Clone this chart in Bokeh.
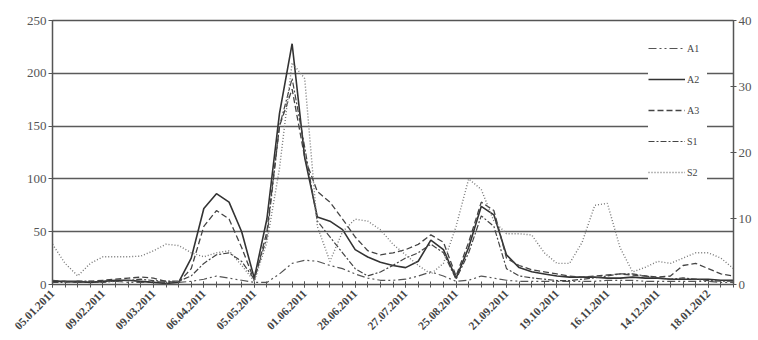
from math import pi
from bokeh.plotting import figure
from bokeh.models import Range1d, LinearAxis, FixedTicker, Legend, LegendItem, ColumnDataSource
from bokeh.embed import file_html
from bokeh.resources import INLINE

# ---- data ----
date_labels = ["05.01.2011", "09.02.2011", "09.03.2011", "06.04.2011", "05.05.2011",
               "01.06.2011", "28.06.2011", "27.07.2011", "25.08.2011", "21.09.2011",
               "19.10.2011", "16.11.2011", "14.12.2011", "18.01.2012"]
n_points = 55
week_index = list(range(n_points))

# left axis series
A1 = [3, 3, 2, 2, 3, 3, 2, 2, 3, 2, 2,
      3, 5, 8, 6, 4, 2, 2, 10, 20, 23,
      22, 18, 15, 10, 6, 4, 4, 5, 8, 12,
      8, 3, 4, 8, 6, 4, 3, 3, 3, 3,
      3, 3, 3, 4, 4, 4, 3, 3, 3, 3, 3, 3, 2, 2]
A2 = [3, 3, 3, 2, 3, 4, 4, 3, 2, 1, 2,
      25, 72, 86, 78, 50, 6, 62, 162, 228, 120,
      64, 60, 52, 33, 26, 21, 18, 16, 22, 42,
      33, 6, 35, 74, 66, 28, 16, 12, 10, 8,
      7, 7, 7, 6, 6, 7, 6, 6, 5, 5, 5, 5, 4, 4]
A3 = [4, 3, 2, 3, 4, 5, 6, 7, 6, 3, 2,
      15, 55, 70, 62, 35, 4, 50, 150, 185, 120,
      88, 78, 62, 45, 32, 28, 30, 33, 38, 47,
      40, 8, 40, 78, 70, 25, 18, 14, 12, 10,
      8, 7, 8, 9, 10, 9, 8, 7, 8, 18, 20, 15, 10, 8]
# right axis series
S1 = [0.3, 0.3, 0.5, 0.5, 0.3, 0.5, 0.6, 0.8, 0.6, 0.5, 0.5,
      1.3, 3.2, 4.5, 4.8, 3.5, 0.8, 7.2, 24.0, 31.2, 20.8,
      9.6, 7.2, 4.8, 2.4, 1.3, 1.9, 2.9, 4.0, 4.8, 6.1,
      4.8, 0.8, 4.8, 10.4, 8.8, 2.4, 1.3, 1.0, 0.8, 0.6,
      0.6, 0.8, 1.0, 1.3, 1.6, 1.6, 1.3, 1.0, 0.8, 1.0, 0.8, 0.6, 0.5, 0.5]
S2 = [6.1, 3.2, 1.3, 3.2, 4.2, 4.2, 4.2, 4.3, 5.1, 6.1, 5.9,
      4.8, 4.2, 4.8, 5.1, 2.9, 0.5, 6.4, 17.6, 33.6, 31.2,
      8.8, 3.5, 8.0, 9.9, 9.6, 8.3, 6.1, 4.5, 2.9, 1.6,
      3.2, 8.8, 16.0, 14.4, 9.6, 7.7, 7.7, 7.5, 4.8, 3.2,
      3.2, 6.4, 12.0, 12.3, 5.6, 1.9, 2.6, 3.5, 3.2, 4.0, 4.8, 4.8, 4.0, 2.4]

left_ticks = [0, 50, 100, 150, 200, 250]
right_ticks = [0, 10, 20, 30, 40]

src = ColumnDataSource(dict(x=week_index, A1=A1, A2=A2, A3=A3, S1=S1, S2=S2))

FONT = "Liberation Serif"
AXC = "#555555"

p = figure(width=758, height=340, output_backend="svg", toolbar_location=None,
           x_range=Range1d(0, n_points - 1), y_range=Range1d(0, 250),
           min_border_left=52, min_border_right=25, min_border_top=20, min_border_bottom=56)
p.extra_y_ranges = {"right": Range1d(0, 40)}
p.outline_line_color = None
p.background_fill_color = "white"

# grid
p.xgrid.visible = False
p.ygrid.ticker = FixedTicker(ticks=left_ticks[1:])
p.ygrid.grid_line_color = "#5a5a5a"
p.ygrid.grid_line_width = 1.5

# x axis
xa = p.xaxis[0]
xa.ticker = FixedTicker(ticks=list(range(0, n_points, 4)), minor_ticks=week_index)
xa.major_label_overrides = {i * 4: lab for i, lab in enumerate(date_labels)}
xa.major_label_orientation = pi / 4
xa.major_label_text_font = FONT
xa.major_label_text_font_size = "11.5px"
xa.major_label_text_font_style = "bold"
xa.major_label_text_color = "#444444"
xa.axis_line_color = AXC
xa.axis_line_width = 1.5
xa.major_tick_line_color = AXC
xa.minor_tick_line_color = AXC
xa.major_tick_in = 3
xa.major_tick_out = 3
xa.minor_tick_in = 3
xa.minor_tick_out = 3
xa.major_label_standoff = 4

# left axis
ya = p.yaxis[0]
ya.ticker = FixedTicker(ticks=left_ticks)
ya.major_label_text_font = FONT
ya.major_label_text_font_size = "13px"
ya.major_label_text_color = "#555555"
ya.axis_line_color = AXC
ya.axis_line_width = 1.5
ya.major_tick_line_color = AXC
ya.major_tick_in = 2
ya.major_tick_out = 4
ya.minor_tick_line_color = None
ya.major_label_standoff = 2

# right axis
ra = LinearAxis(y_range_name="right", ticker=FixedTicker(ticks=right_ticks))
ra.major_label_text_font = FONT
ra.major_label_text_font_size = "13px"
ra.major_label_text_color = "#555555"
ra.axis_line_color = AXC
ra.axis_line_width = 1.5
ra.major_tick_line_color = AXC
ra.major_tick_in = 3
ra.major_tick_out = 3
ra.minor_tick_line_color = None
ra.major_label_standoff = 2
p.add_layout(ra, "right")

# top axis line (frame top)
ta = LinearAxis(ticker=FixedTicker(ticks=[]), major_label_text_font_size="0px")
ta.axis_line_color = AXC
ta.axis_line_width = 1.5
ta.major_tick_line_color = None
ta.minor_tick_line_color = None
p.add_layout(ta, "above")

# lines
r_a1 = p.line("x", "A1", source=src, line_color="#555555", line_width=1.2, line_dash="8 3 2 3 2 3")
r_a2 = p.line("x", "A2", source=src, line_color="#333333", line_width=1.6)
r_a3 = p.line("x", "A3", source=src, line_color="#444444", line_width=1.3, line_dash="6 3")
r_s1 = p.line("x", "S1", source=src, y_range_name="right", line_color="#444444", line_width=1.2, line_dash="6 2 2 2")
r_s2 = p.line("x", "S2", source=src, y_range_name="right", line_color="#777777", line_width=1.4, line_dash="1 2")

legend = Legend(items=[LegendItem(label="A1", renderers=[r_a1]),
                       LegendItem(label="A2", renderers=[r_a2]),
                       LegendItem(label="A3", renderers=[r_a3]),
                       LegendItem(label="S1", renderers=[r_s1]),
                       LegendItem(label="S2", renderers=[r_s2])],
                location=(596, 102))
legend.background_fill_color = "white"
legend.background_fill_alpha = 1.0
legend.border_line_color = None
legend.label_text_font = FONT
legend.label_text_font_size = "10px"
legend.label_text_color = "#444444"
legend.glyph_width = 37
legend.glyph_height = 20
legend.label_height = 20
legend.spacing = 11
legend.padding = 4
legend.margin = 0
legend.label_standoff = 2
p.add_layout(legend)

open("out.html", "w").write(file_html(p, INLINE))
